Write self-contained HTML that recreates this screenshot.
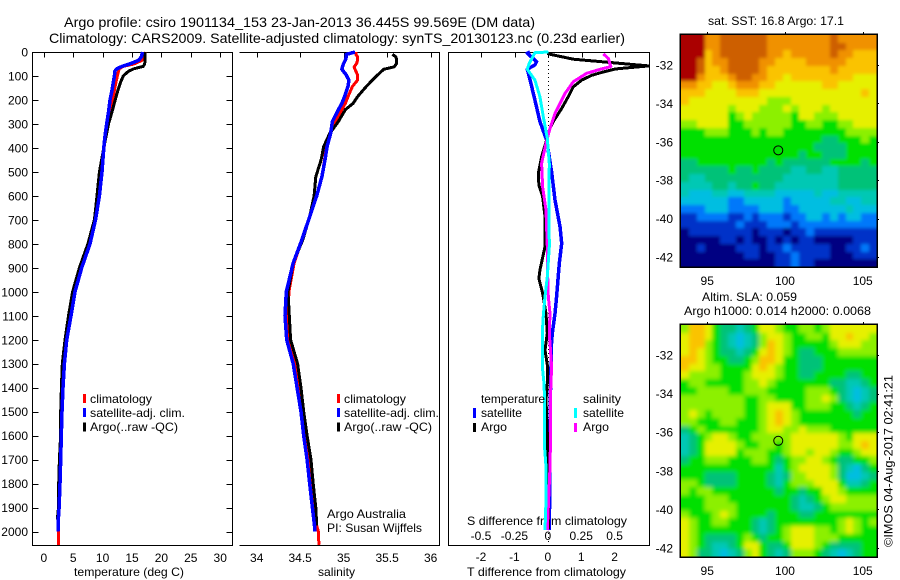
<!DOCTYPE html>
<html lang="en">
<head>
<meta charset="utf-8">
<title>Argo profile chart</title>
<style>
html,body{margin:0;padding:0;background:#fff;}
body{width:900px;height:580px;overflow:hidden;}
svg{display:block;}
text{font-family:"Liberation Sans",sans-serif;font-size:12px;fill:#000;}
.t{font-size:14px;}
</style>
</head>
<body>
<svg id="chart" width="900" height="580" viewBox="0 0 900 580" xmlns="http://www.w3.org/2000/svg">
<defs>
<filter id="sstBlur" filterUnits="userSpaceOnUse" x="650" y="10" width="250" height="280"><feGaussianBlur stdDeviation="1.5"/></filter>
<filter id="slaBlur" filterUnits="userSpaceOnUse" x="650" y="300" width="250" height="280"><feGaussianBlur stdDeviation="2"/></filter>
<clipPath id="sstClip"><rect x="681" y="35" width="196" height="232"/></clipPath>
<clipPath id="slaClip"><rect x="681" y="325" width="196" height="232"/></clipPath>
</defs>
<rect x="0" y="0" width="900" height="580" fill="#fff"/>
<text class="t" x="64" y="27" textLength="471" lengthAdjust="spacingAndGlyphs">Argo profile: csiro 1901134_153 23-Jan-2013 36.445S 99.569E (DM data)</text>
<text class="t" x="49" y="43" textLength="576" lengthAdjust="spacingAndGlyphs">Climatology: CARS2009. Satellite-adjusted climatology: synTS_20130123.nc (0.23d earlier)</text>
<text x="74" y="576" textLength="110" lengthAdjust="spacingAndGlyphs">temperature (deg C)</text>
<text x="318" y="576" textLength="37" lengthAdjust="spacingAndGlyphs">salinity</text>
<text x="467" y="576" textLength="159" lengthAdjust="spacingAndGlyphs">T difference from climatology</text>
<text x="467" y="525" textLength="160" lengthAdjust="spacingAndGlyphs">S difference from climatology</text>
<text x="327" y="518" textLength="79" lengthAdjust="spacingAndGlyphs">Argo Australia</text>
<text x="327" y="532" textLength="95" lengthAdjust="spacingAndGlyphs">PI: Susan Wijffels</text>
<text x="708" y="25" textLength="136" lengthAdjust="spacingAndGlyphs">sat. SST: 16.8 Argo: 17.1</text>
<text x="702" y="301" textLength="95" lengthAdjust="spacingAndGlyphs">Altim. SLA: 0.059</text>
<text x="684" y="315" textLength="187" lengthAdjust="spacingAndGlyphs">Argo h1000: 0.014 h2000: 0.0068</text>
<text transform="translate(892.5,547) rotate(-90)" x="0" y="0" textLength="172" lengthAdjust="spacingAndGlyphs">©IMOS 04-Aug-2017 02:41:21</text>
<g id="maps"></g>
<g id="axes"></g>
<g id="series"></g>
<g id="legends"></g>
</svg>
<script>
/* ---------- profile data ---------- */
const tempDepths = [0,20,35,50,60,70,80,100,130,160,200,250,300,350,400,500,600,700,800,900,1000,1100,1200,1300,1400,1500,1600,1700,1800,1900,1950,2000,2055];
const tempClim = [17.3,17.1,16.7,15.3,13.5,12.84,12.7,12.5,12.25,12.0,11.7,11.26,10.8,10.5,10.25,9.85,9.35,8.75,7.75,6.35,5.2,4.5,3.8,3.4,3.2,3.05,2.95,2.85,2.75,2.6,2.5,2.47,2.47];
const tempSat = [16.8,16.6,16.1,14.6,13.3,12.4,12.1,12.0,11.8,11.6,11.26,11.0,10.7,10.4,10.2,9.9,9.45,8.8,7.85,6.45,5.3,4.63,3.9,3.5,3.27,3.1,2.98,2.87,2.76,2.6,2.47,2.42,null];
const tempArgo = [17.2,17.2,17.2,17.16,16.9,15.3,14.4,13.5,13.0,12.6,12.15,11.6,11.0,10.6,10.2,9.45,9.05,8.6,7.5,6.05,4.9,4.2,3.6,3.15,3.0,2.87,2.85,2.65,2.53,2.5,2.3,null,null];

const salDepths = [0,10,20,33,47,62,72,96,117,144,186,214,240,290,340,394,450,520,600,686,783,880,1000,1100,1200,1300,1400,1500,1600,1700,1800,1900,1975,2000,2055];
const salClim = [35.14,35.14,35.16,35.16,35.15,35.12,35.13,35.16,35.16,35.10,35.05,35.02,34.98,34.9,34.84,34.80,34.78,34.75,34.69,34.61,34.52,34.43,34.37,34.36,34.38,34.44,34.485,34.525,34.56,34.6,34.63,34.66,34.69,34.71,34.715];
const salSat = [35.13,35.03,35.03,35.02,35.0,34.985,34.98,35.03,35.06,35.05,35.01,34.98,34.94,34.87,34.85,34.81,34.785,34.75,34.69,34.61,34.52,34.42,34.34,34.325,34.345,34.42,34.465,34.51,34.54,34.58,34.61,34.64,34.665,34.67,null];
const salArgo = [null,35.56,35.6,35.61,35.61,35.58,35.46,35.39,35.33,35.26,35.16,35.11,35.02,34.94,34.84,34.77,34.74,34.68,34.66,34.61,34.53,34.42,34.36,34.375,34.39,34.47,34.51,34.54,34.58,34.625,34.65,34.68,34.69,null,null];

const diffTempSatDepths = [0,5,40,54,72,103,200,290,367,500,617,728,798,881,1020,1090,1173,1243,1312,1451,1590,1729,1869,1994];
const diffTempSat = [-.55,-.63,-.35,-.4,-.63,-.57,-.4,-.25,-.05,.1,.2,.35,.4,.33,.25,.2,.12,.08,.08,.06,.05,.04,.04,.03];
const diffTempArgoDepths = [0,8,30,58,71,85,97,117,145,186,235,290,318,367,437,506,555,603,687,812,910,945,1006,1090,1173,1243,1312,1382,1451,1590,1729,1869,1990];
const diffTempArgo = [0,0,.75,3,2,1.6,1.3,1.0,.75,.6,.4,.15,.05,-.05,-.2,-.3,-.28,-.17,-.1,-.1,-.25,-.28,-.17,-.07,-.03,-.1,-.02,-.03,-.07,-.03,-.02,0,0];
const diffSalArgoDepths = [8,27,61,72,89,124,173,256,318,381,464,562,659,812,881,1020,1090,1173,1312,1451,1590,1729,1869,1994];
const diffSalArgo = [.4125,.45,.4675,.3875,.2875,.1875,.125,.05,.0125,-.0175,-.05,-.0425,-.0175,-.0075,-.0075,0,.0125,.0075,.025,.015,.0175,.0125,.0025,-.0075];
const diffSalSatDepths = [0,3,47,72,117,186,270,360,464,603,812,937,1020,1100,1173,1312,1382,1451,1650,1729,1869,1994];
const diffSalSat = [0,-.1,-.1425,-.1575,-.1,-.0625,-.0375,-.0075,.0075,.005,.0075,-.0075,-.025,-.0375,-.045,-.045,-.0325,-.0275,-.0275,-.0175,-.0175,-.025];

/* ---------- axis tick values ---------- */
const depthTicks = [0,100,200,300,400,500,600,700,800,900,1000,1100,1200,1300,1400,1500,1600,1700,1800,1900,2000];
const tempTicks = [0,5,10,15,20,25,30];
const salTicks = [34,34.5,35,35.5,36];
const diffTempTicks = [-2,-1,0,1,2];
const diffSalTicks = [-0.5,-0.25,0,0.25,0.5];
const mapLatTicks = [-32,-34,-36,-38,-40,-42];
const mapLonTicks = [95,100,105];

/* ---------- map cells: rows north to south, colour level 0-12 ---------- */
const mapLevelColors = ['#000082','#0032c8','#0078fa','#00bee1','#00c8b4','#00c278','#00e000','#8cf000','#e6f000','#fac300','#f09100','#cd5f00','#aa0000'];
const sstCells = [
[12,12,12,10,10,11,11,11,11,11,11,10,10,10,10,10,10,10,10,11,10,10,10,10,10],
[12,12,12,10,10,11,11,11,11,11,11,10,10,10,10,10,10,10,10,11,11,10,10,10,10],
[12,12,12,9,10,11,11,11,11,11,11,10,10,9,10,10,10,10,10,11,10,10,9,9,9],
[12,12,11,9,10,10,11,11,11,11,10,10,9,9,9,9,10,10,10,10,10,9,9,9,9],
[12,12,11,9,9,10,11,11,11,11,10,9,9,9,9,9,9,9,9,10,9,9,9,9,9],
[12,12,10,9,9,9,10,11,11,10,10,9,9,8,9,9,9,9,9,9,9,9,8,8,8],
[10,10,9,9,8,8,9,10,10,10,9,9,8,8,8,8,8,8,9,9,8,8,8,8,8],
[9,9,9,8,8,8,8,9,9,9,8,8,8,8,8,8,8,8,8,8,8,8,8,9,8],
[9,8,8,8,8,8,8,8,8,8,8,7,7,7,8,8,8,8,8,8,8,8,8,8,8],
[8,8,8,8,8,8,7,8,8,8,7,7,7,8,7,8,8,8,7,8,8,8,8,8,8],
[8,8,8,8,8,8,6,7,8,7,7,7,7,7,6,8,8,7,7,7,8,8,8,8,8],
[7,7,8,8,8,8,6,6,7,7,7,7,7,7,6,6,7,7,6,6,7,7,8,8,8],
[6,6,6,7,7,7,6,6,6,7,6,7,7,6,6,6,6,6,6,6,6,7,7,7,7],
[6,6,6,6,6,6,6,6,6,6,6,6,6,6,6,6,6,6,5,5,6,6,6,7,6],
[6,6,6,6,6,6,6,6,6,6,6,6,6,6,6,6,6,5,5,5,5,6,6,6,6],
[6,6,6,6,6,6,6,6,6,6,6,6,6,6,6,5,6,6,5,5,5,6,6,6,6],
[5,5,6,6,6,6,6,6,6,6,6,5,6,5,5,5,5,5,5,6,6,6,6,5,6],
[5,5,5,5,5,5,6,5,5,6,5,5,5,5,4,4,5,5,4,4,5,5,5,5,5],
[5,4,4,5,5,5,5,5,5,5,5,5,5,4,4,4,4,4,4,4,5,5,5,5,5],
[4,4,4,4,5,5,4,5,5,6,5,5,4,4,4,4,4,4,4,4,5,5,5,5,5],
[4,3,3,3,4,4,3,3,4,4,4,4,3,3,3,3,3,4,3,3,4,4,4,4,4],
[3,3,3,3,3,3,2,2,3,3,3,3,3,2,3,3,3,3,3,4,4,3,3,4,4],
[2,2,2,3,3,3,2,2,2,2,3,3,3,2,2,3,3,3,3,3,3,4,3,3,3],
[1,1,2,2,2,2,1,1,2,1,2,2,2,1,2,2,3,3,2,3,2,3,3,2,2],
[1,1,1,1,1,1,1,2,1,1,1,2,2,2,1,2,2,2,2,2,2,2,2,2,2],
[0,1,1,1,1,1,1,1,1,0,1,1,1,0,1,1,2,1,1,1,1,1,1,1,1],
[0,0,0,0,0,1,1,0,1,0,0,1,0,1,0,1,1,0,0,0,0,0,1,1,1],
[0,0,1,0,0,0,0,1,1,1,0,1,1,2,1,1,1,1,1,0,0,1,1,2,1],
[0,0,0,0,0,0,0,0,1,1,0,0,1,1,2,1,1,1,1,0,0,0,1,1,1],
[0,0,0,0,0,0,0,0,0,0,0,0,1,1,2,1,1,0,0,0,0,0,0,0,0]
];
const slaCells = [
[7,9,9,8,6,5,5,4,5,6,8,8,7,6,6,7,7,6,7,8,8,8,8,8,8],
[8,9,9,8,6,5,4,3,4,5,7,8,8,7,6,6,7,7,6,8,8,9,8,8,7],
[8,9,9,7,6,5,4,3,4,5,7,9,8,7,6,6,6,6,6,7,8,8,8,7,7],
[8,9,8,7,6,5,5,4,5,6,8,9,8,7,6,5,5,6,6,6,7,7,7,7,7],
[9,9,8,7,6,6,5,5,6,7,9,9,8,6,6,5,5,5,6,6,6,6,6,6,6],
[9,8,8,7,7,6,6,6,6,8,9,8,7,6,6,5,5,5,6,6,6,6,6,6,6],
[8,7,7,7,7,6,6,6,7,8,8,8,7,6,6,5,5,6,6,6,6,5,5,6,6],
[6,7,7,6,6,6,6,6,7,7,8,7,6,6,6,6,6,6,6,5,5,4,4,5,6],
[6,6,7,7,7,7,6,6,7,7,7,6,6,6,6,6,7,7,7,6,5,4,3,4,5],
[7,7,7,7,7,7,7,7,6,6,7,7,6,6,6,6,7,7,8,7,5,4,3,4,5],
[7,7,7,7,7,7,7,7,6,6,7,8,8,8,6,6,7,7,7,6,6,5,4,5,6],
[7,8,7,6,7,7,7,7,6,6,7,8,9,8,7,6,6,6,6,6,6,6,5,6,6],
[7,7,6,6,6,7,7,6,6,6,7,8,9,8,7,6,6,6,6,6,6,6,6,6,6],
[5,6,7,6,6,6,6,6,6,6,7,8,8,7,7,8,7,7,7,6,6,6,6,6,6],
[4,5,6,7,8,8,7,6,6,7,7,7,7,7,8,8,8,8,8,8,7,6,8,8,8],
[4,5,6,8,8,8,8,7,6,6,7,7,6,7,8,8,8,8,8,8,7,7,8,9,8],
[4,5,6,8,8,8,8,6,7,7,7,6,6,7,8,8,7,8,8,7,6,6,7,8,8],
[5,6,6,7,7,7,6,6,6,7,7,6,5,6,7,7,8,8,7,6,5,5,6,6,7],
[6,6,6,6,6,6,6,6,6,6,6,6,4,6,7,8,8,8,8,7,5,4,3,5,6],
[6,6,6,5,5,5,5,6,6,6,6,5,4,5,7,7,8,8,8,7,5,3,3,4,5],
[7,7,6,5,5,5,5,6,6,6,6,5,4,6,7,7,7,8,8,8,6,4,4,5,6],
[7,6,7,7,6,6,6,6,6,6,6,6,5,6,6,5,6,6,8,8,7,6,6,6,6],
[6,6,6,7,7,7,6,6,6,6,6,6,6,6,5,4,5,6,7,8,8,7,7,7,7],
[6,6,6,7,7,7,7,6,6,6,6,6,6,6,5,4,4,5,6,7,7,7,7,7,7],
[7,6,6,6,7,8,7,6,6,6,6,5,6,6,6,5,5,6,6,6,6,6,6,6,6],
[8,7,6,6,7,7,6,6,6,5,4,5,6,6,6,6,6,6,6,6,7,8,7,6,7],
[8,7,6,6,6,6,6,6,6,5,4,5,6,7,8,8,8,7,7,6,7,8,7,6,6],
[8,7,6,5,5,5,5,6,7,6,5,6,6,7,8,8,8,7,7,7,6,6,6,6,6],
[8,7,6,5,4,4,5,6,8,8,6,5,5,6,8,8,8,7,6,5,5,5,5,6,6],
[8,7,5,5,4,3,4,5,7,8,6,5,4,5,7,7,7,6,5,4,3,4,5,6,6]
];
const floatLon = [99.569];
const floatLat = [-36.445];

/* ---------- axis functions ---------- */
const SVGNS = 'http://www.w3.org/2000/svg';
const yDepth = d => 52 + d * 0.2398;
const xTemp = t => 43.8 + t * 5.88;
const xSal = s => 256.7 + (s - 34) * 86.96;
const xDiffT = t => 548.3 + t * 33.4;
const xDiffS = s => 548.3 + s * 133.6;
const xLon = lon => 680 + (lon - 93.25) * 15.55;
const yLatSst = lat => 65 + (-32 - lat) * 19.2;
const yLatSla = lat => 355 + (-32 - lat) * 19.3;

const gMaps = document.getElementById('maps');
const gAxes = document.getElementById('axes');
const gSeries = document.getElementById('series');
const gLegends = document.getElementById('legends');

function make(tag, parent, name, attrs) {
  const el = document.createElementNS(SVGNS, tag);
  
  
  for (const k in attrs) el.setAttribute(k, attrs[k]);
  parent.appendChild(el);
  return el;
}
function line(parent, name, x1, y1, x2, y2) {
  return make('line', parent, name, {x1, y1, x2, y2, stroke: '#000', 'stroke-width': 1, 'shape-rendering': 'crispEdges'});
}
function label(parent, name, x, y, anchor, str) {
  const el = make('text', parent, name, {x, y, 'text-anchor': anchor});
  el.textContent = str;
  return el;
}
function profile(name, xs, depths, xFn, color, width) {
  const pts = [];
  xs.forEach((v, i) => { if (v !== null) pts.push(xFn(v).toFixed(1) + ',' + yDepth(depths[i]).toFixed(1)); });
  make('polyline', gSeries, name, {points: pts.join(' '), fill: 'none', stroke: color, 'stroke-width': width, 'stroke-linejoin': 'round', 'shape-rendering': 'crispEdges'});
}

/* ---------- profile panel frames ---------- */
line(gAxes, 'temperature-axis-top', 32.5, 52.5, 232.5, 52.5);
line(gAxes, 'temperature-axis-bottom', 32.5, 545.5, 232.5, 545.5);
line(gAxes, 'temperature-axis-left', 32.5, 52, 32.5, 546);
line(gAxes, 'temperature-axis-right', 232.5, 52, 232.5, 546);
line(gAxes, 'salinity-axis-top', 239.5, 52.5, 439.5, 52.5);
line(gAxes, 'salinity-axis-bottom', 239.5, 545.5, 439.5, 545.5);
line(gAxes, 'salinity-axis-right', 439.5, 52, 439.5, 546);
line(gAxes, 'difference-axis-top', 448.5, 52.5, 649.5, 52.5);
line(gAxes, 'difference-axis-bottom', 448.5, 545.5, 649.5, 545.5);
line(gAxes, 'difference-axis-left', 448.5, 52, 448.5, 546);
line(gAxes, 'difference-axis-right', 649.5, 52, 649.5, 546);

depthTicks.forEach(d => {
  const y = Math.round(yDepth(d)) + 0.5;
  line(gAxes, 'depth-tick-left', 32.5, y, 38.5, y);
  line(gAxes, 'depth-tick-right', 226.5, y, 232.5, y);
  label(gAxes, 'depth-tick-label', 28, yDepth(d) + 4.5, 'end', String(d));
});
tempTicks.forEach(t => {
  const x = Math.round(xTemp(t)) + 0.5;
  line(gAxes, 'temperature-tick', x, 52.5, x, 57.5);
  label(gAxes, 'temperature-tick-label', xTemp(t), 562, 'middle', String(t));
});
salTicks.forEach(s => {
  const x = Math.round(xSal(s)) + 0.5;
  line(gAxes, 'salinity-tick', x, 52.5, x, 57.5);
  label(gAxes, 'salinity-tick-label', xSal(s), 562, 'middle', String(s));
});
diffTempTicks.forEach(t => {
  const x = Math.round(xDiffT(t)) + 0.5;
  line(gAxes, 'difference-tick', x, 52.5, x, 57.5);
  label(gAxes, 'temperature-difference-tick-label', xDiffT(t) - 0.5, 561, 'middle', String(t));
});
diffSalTicks.forEach(s => {
  label(gAxes, 'salinity-difference-tick-label', xDiffS(s) - 0.5, 540, 'middle', String(s));
});

/* ---------- series ---------- */
profile('temperature-climatology-line', tempClim, tempDepths, xTemp, '#ff0000', 3);
profile('temperature-argo-line', tempArgo, tempDepths, xTemp, '#000000', 3);
profile('temperature-satellite-line', tempSat, tempDepths, xTemp, '#0000ff', 3.5);
profile('salinity-climatology-line', salClim, salDepths, xSal, '#ff0000', 3);
profile('salinity-argo-line', salArgo, salDepths, xSal, '#000000', 3);
profile('salinity-satellite-line', salSat, salDepths, xSal, '#0000ff', 3.5);

const zeroLine = make('line', gSeries, 'zero-difference-line', {x1: xDiffT(0), y1: 53, x2: xDiffT(0), y2: 545, stroke: '#000', 'stroke-width': 1, 'stroke-dasharray': '1 3', 'shape-rendering': 'crispEdges'});
profile('t-difference-satellite-line', diffTempSat, diffTempSatDepths, xDiffT, '#0000ff', 3.5);
profile('t-difference-argo-line', diffTempArgo, diffTempArgoDepths, xDiffT, '#000000', 3);
profile('s-difference-argo-line', diffSalArgo, diffSalArgoDepths, xDiffS, '#ff00ff', 3);
profile('s-difference-satellite-line', diffSalSat, diffSalSatDepths, xDiffS, '#00ffff', 3);

/* ---------- legends ---------- */
function swatch(name, x, y, h, color) {
  make('rect', gLegends, name, {x, y, width: 3, height: h, fill: color, 'shape-rendering': 'crispEdges'});
}
function legendText(name, x, y, len, str) {
  const el = label(gLegends, name, x, y, 'start', str);
  el.setAttribute('textLength', len);
  el.setAttribute('lengthAdjust', 'spacingAndGlyphs');
}
const profileLegendX = [83, 337];
const profileLegendLabels = ['climatology', 'satellite-adj. clim.', 'Argo(..raw -QC)'];
const profileLegendColors = ['#ff0000', '#0000ff', '#000000'];
const profileLegendWidths = [62, 95, 88];
profileLegendX.forEach(x0 => {
  profileLegendLabels.forEach((str, i) => {
    swatch('profile-legend-swatch', x0, 394 + i * 14.2, 9, profileLegendColors[i]);
    legendText('profile-legend-label', x0 + 7, 403 + i * 14.1, profileLegendWidths[i], str);
  });
});
legendText('diff-legend-temperature-heading', 481, 403, 64, 'temperature');
legendText('diff-legend-salinity-heading', 583, 403, 38, 'salinity');
legendText('diff-legend-temperature-satellite-label', 481, 417, 41, 'satellite');
legendText('diff-legend-temperature-argo-label', 481, 431, 26, 'Argo');
legendText('diff-legend-salinity-satellite-label', 583, 417, 41, 'satellite');
legendText('diff-legend-salinity-argo-label', 583, 431, 26, 'Argo');
swatch('diff-legend-temperature-satellite-swatch', 473, 408, 10, '#0000ff');
swatch('diff-legend-temperature-argo-swatch', 473, 423, 9, '#000000');
swatch('diff-legend-salinity-satellite-swatch', 574, 408, 10, '#00ffff');
swatch('diff-legend-salinity-argo-swatch', 574, 423, 9, '#ff00ff');

/* ---------- maps ---------- */
function drawMap(prefix, cells, top, bottom, yLat, clipId, blurId) {
  const left = 681, right = 877;
  const rows = cells.length;
  const cols = cells[0].length;
  const clip = make('g', gMaps, prefix + '-map', {'clip-path': 'url(#' + clipId + ')'});
  const g = make('g', clip, prefix + '-map-cells', {filter: 'url(#' + blurId + ')'});
  cells.forEach((row, r) => {
    row.forEach((v, c) => {
      let x0 = Math.round(left + (right - left) * c / cols);
      let x1 = Math.round(left + (right - left) * (c + 1) / cols);
      let y0 = Math.round(top + (bottom - top) * r / rows);
      let y1 = Math.round(top + (bottom - top) * (r + 1) / rows);
      if (c === 0) x0 -= 12;
      if (c === cols - 1) x1 += 12;
      if (r === 0) y0 -= 12;
      if (r === rows - 1) y1 += 12;
      make('rect', g, prefix + '-cell', {x: x0, y: y0, width: x1 - x0, height: y1 - y0, fill: mapLevelColors[v], 'shape-rendering': 'crispEdges'});
    });
  });
  make('rect', gMaps, prefix + '-map-frame', {x: 680, y: top - 1, width: 197, height: bottom - top + 1, fill: 'none', stroke: '#000', 'stroke-width': 1.5, 'shape-rendering': 'crispEdges'});
  mapLatTicks.forEach(lat => {
    const y = Math.round(yLat(lat)) + 0.5;
    line(gMaps, prefix + '-latitude-tick', 877, y, 879, y);
    label(gMaps, prefix + '-latitude-tick-label', 673, yLat(lat) + 4.5, 'end', String(lat));
  });
  mapLonTicks.forEach(lon => {
    const x = Math.round(xLon(lon)) + 0.5;
    line(gMaps, prefix + '-longitude-tick', x, top - 3, x, top - 1);
    label(gMaps, prefix + '-longitude-tick-label', xLon(lon), bottom + 18, 'middle', String(lon));
  });
  make('circle', gMaps, prefix + '-float-position', {cx: xLon(floatLon[0]), cy: yLat(floatLat[0]), r: 4.5, fill: 'none', stroke: '#000', 'stroke-width': 1});
}
drawMap('sst', sstCells, 35, 267, yLatSst, 'sstClip', 'sstBlur');
drawMap('sla', slaCells, 325, 557, yLatSla, 'slaClip', 'slaBlur');
</script>
</body>
</html>
